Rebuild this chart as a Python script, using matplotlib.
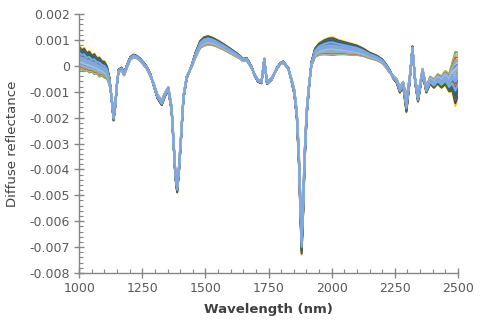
import matplotlib
matplotlib.use("Agg")
import numpy as np
import matplotlib.pyplot as plt
from matplotlib.ticker import MultipleLocator, FuncFormatter

# band centre and signed half-width of the bundle of spectra
wavelength = [
    1000, 1010, 1020, 1030, 1040, 1050, 1060, 1070, 1080, 1090, 1100, 1110,
    1120, 1128, 1136, 1143, 1150, 1156, 1168, 1178, 1190, 1202, 1215, 1228,
    1241, 1255, 1268, 1282, 1295, 1310, 1327, 1340, 1353, 1366, 1374, 1381,
    1388, 1395, 1403, 1413, 1426, 1446, 1460, 1479, 1495, 1510, 1525, 1545,
    1570, 1597, 1620, 1637, 1649, 1663, 1682, 1696, 1708, 1722, 1733, 1744,
    1762, 1782, 1796, 1808, 1828, 1841, 1852, 1862, 1870, 1876, 1881, 1887,
    1893, 1901, 1911, 1920, 1934, 1950, 1970, 1990, 2005, 2025, 2050, 2072,
    2100, 2125, 2150, 2177, 2200, 2215, 2230, 2245, 2257, 2270, 2283, 2296,
    2308, 2320, 2331, 2342, 2360, 2375, 2390, 2405, 2420, 2435, 2450, 2465,
    2478, 2490, 2500,
]
band_mean = [
    0.00028, 0.00024, 0.00022, 0.00015, 0.00014, 0.00008, 0.00006, 0.00000,
    -0.00006, -0.00010, -0.00016, -0.00026,
    -0.00060, -0.00120, -0.00200, -0.00150, -0.00065, -0.00020, -0.00012, -0.00032,
    0.00000, 0.00028, 0.00038, 0.00034,
    0.00024, 0.00008, -0.00008, -0.00036, -0.00072, -0.00118, -0.00142, -0.00110,
    -0.00088, -0.00165, -0.00300, -0.00420,
    -0.00470, -0.00400, -0.00280, -0.00120, -0.00044, 0.00000, 0.00040, 0.00082,
    0.00094, 0.00098, 0.00095, 0.00087,
    0.00074, 0.00058, 0.00044, 0.00033, 0.00022, 0.00026, -0.00005, -0.00037,
    -0.00057, -0.00063, 0.00024, -0.00066,
    -0.00050, -0.00012, 0.00008, 0.00014, -0.00010, -0.00055, -0.00100, -0.00190,
    -0.00350, -0.00540, -0.00675, -0.00540,
    -0.00350, -0.00180, -0.00070, 0.00008, 0.00050, 0.00064, 0.00071, 0.00074,
    0.00074, 0.00071, 0.00068, 0.00064,
    0.00060, 0.00052, 0.00040, 0.00031, 0.00018, 0.00000, -0.00022, -0.00045,
    -0.00057, -0.00092, -0.00070, -0.00150,
    -0.00060, 0.00068, -0.00060, -0.00125, -0.00020, -0.00092, -0.00055, -0.00068,
    -0.00050, -0.00062, -0.00045, -0.00065,
    -0.00040, -0.00045, -0.00030,
]
band_spread = [
    0.00050, 0.00040, 0.00048, 0.00036, 0.00044, 0.00034, 0.00042, 0.00032,
    0.00040, 0.00030, 0.00034, 0.00026,
    0.00015, -0.00006, -0.00012, -0.00008, -0.00005, 0.00006, 0.00006, 0.00006,
    0.00006, 0.00006, 0.00006, 0.00005,
    0.00005, 0.00005, 0.00005, 0.00005, -0.00005, -0.00008, -0.00010, -0.00008,
    -0.00007, -0.00010, -0.00012, -0.00015,
    -0.00020, -0.00015, -0.00012, -0.00008, -0.00005, 0.00004, 0.00010, 0.00015,
    0.00018, 0.00018, 0.00016, 0.00014,
    0.00012, 0.00010, 0.00008, 0.00006, 0.00005, 0.00005, 0.00004, -0.00004,
    -0.00005, -0.00005, 0.00004, -0.00005,
    -0.00004, 0.00003, 0.00003, 0.00003, 0.00003, -0.00005, -0.00010, -0.00015,
    -0.00025, -0.00035, -0.00055, -0.00035,
    -0.00025, -0.00015, -0.00008, 0.00008, 0.00018, 0.00024, 0.00030, 0.00035,
    0.00036, 0.00030, 0.00026, 0.00024,
    0.00020, 0.00016, 0.00012, 0.00010, 0.00008, 0.00007, 0.00006, -0.00006,
    -0.00008, -0.00012, -0.00010, -0.00030,
    -0.00012, 0.00008, -0.00010, -0.00014, -0.00010, -0.00012, -0.00015, -0.00018,
    -0.00020, -0.00024, -0.00028, -0.00036,
    -0.00060, -0.00110, -0.00090,
]
# where each spectrum sits inside the band (-1 .. 1), in drawing order
sample_position = [1.0, 0.9, -0.9, 0.8, -0.8, 0.7, -0.7, 0.6, -0.6, 0.5, -0.5,
                   0.3, -0.2, 0.1, 0.4, -0.3, 0.2, -0.4, -0.1, 0.0,
                   -0.55, 0.45, -0.3, 0.15, -0.1]

line_colors = ["#FFC000", "#264478", "#70AD47", "#636363", "#B7B7B7", "#43682B",
               "#D26012", "#255E91", "#8CC168", "#4472C4", "#F4B183",
               "#ED7D31", "#A5A5A5", "#5B9BD5", "#9E480E", "#F1975A", "#327DC2",
               "#698ED0", "#FFCD33", "#7CAFDD",
               "#8FAADC", "#7CAFDD", "#9DC3E6", "#86A8DE", "#7FA6DE"]

wl = np.array(wavelength)
mean = np.array(band_mean)
spread = np.array(band_spread)

fig = plt.figure(figsize=(4.8, 3.2), dpi=100)
ax = fig.add_axes([0.165, 0.147, 0.789, 0.809])

for k, c in zip(sample_position, line_colors):
    ax.plot(wl, mean + k * spread, color=c, linewidth=1.4, solid_joinstyle="round")

ax.set_xlim(1000, 2500)
ax.set_ylim(-0.008, 0.002)
ax.xaxis.set_major_locator(MultipleLocator(250))
ax.xaxis.set_minor_locator(MultipleLocator(50))
ax.yaxis.set_major_locator(MultipleLocator(0.001))
ax.yaxis.set_minor_locator(MultipleLocator(0.0002))
ax.yaxis.set_major_formatter(FuncFormatter(lambda v, p: "0" if abs(v) < 1e-9 else f"{v:.3f}"))

axis_gray = "#868686"
for side in ("top", "right"):
    ax.spines[side].set_visible(False)
for side in ("left", "bottom"):
    ax.spines[side].set_color(axis_gray)
    ax.spines[side].set_linewidth(1.0)
ax.tick_params(which="major", direction="inout", length=7, width=1.0,
               color=axis_gray, labelsize=9, labelcolor="#595959", pad=3)
ax.tick_params(which="minor", direction="in", length=3, width=0.8, color=axis_gray)

ax.set_xlabel("Wavelength (nm)", fontsize=9.5, fontweight="bold", color="#404040")
ax.set_ylabel("Diffuse reflectance", fontsize=9.5, color="#404040")
ax.yaxis.set_label_coords(-0.16, 0.5)
ax.xaxis.set_label_coords(0.5, -0.115)

fig.savefig("out.png", dpi=100)
